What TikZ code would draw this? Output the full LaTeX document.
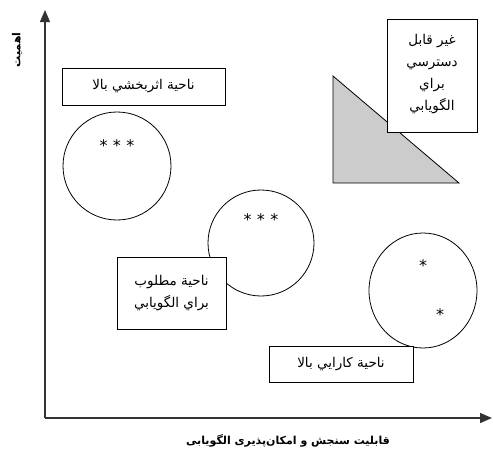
\documentclass[tikz,border=0pt]{standalone}
\usepackage{fontspec}
\newfontfamily\arabicfont[Script=Arabic]{DejaVu Sans}
\TeXXeTstate=1
\usetikzlibrary{shapes.geometric}
\usetikzlibrary{arrows.meta}
\usepackage{xcolor}

\begin{document}
\begin{tikzpicture}[x=1pt, y=-1pt]
        % ================= 样式定义 =================
        % 方框: 黑边, 白色填充, 阿拉伯字体
        \tikzset{
            region/.style={draw=black, thick, fill=white, align=center, inner sep=0pt,
                font=\arabicfont\fontsize{13.5}{22}\selectfont},
            zone/.style={draw=black, thick},
            axis/.style={draw=black!80, line width=1.3pt, -{Triangle[length=12pt, width=10pt]}},
            axislabel/.style={font=\arabicfont\bfseries\fontsize{11}{13}\selectfont},
            stars/.style={font=\arabicfont\fontsize{16}{16}\selectfont, inner sep=0pt}
        }

        % 画布大小
        \useasboundingbox (0,0) rectangle (493,450);

        % ================= 坐标轴 =================
        \coordinate (O) at (45,418);
        \coordinate (ytip) at (45,10);
        \coordinate (xtip) at (492,418);
        \draw[axis] (O) -- (ytip);
        \draw[axis] (O) -- (xtip);

        \node[axislabel] (xlab) at (288,441) {\beginR قابلیت سنجش و امکان‌پذیری الگویابی\endR};
        \node[axislabel, rotate=90] (ylab) at (17,50) {\beginR اهمیت\endR};

        % ================= 绘图部分 =================

        % 三角形: 灰色填充, 不可达区域
        \draw[zone, fill=black!20] (333,76) coordinate (tA) -- (333,183) coordinate (tB)
            -- (459,183) coordinate (tC) -- cycle;

        % 圆形: 左上
        \node[zone, circle, minimum size=108pt] (c1) at (117,166) {};
        \node[stars] (s1) at (117,146) {*\,\,*\,\,*};

        % 圆形: 中间
        \node[zone, circle, minimum size=106pt] (c2) at (261,243) {};
        \node[stars] (s2) at (261,220) {*\,\,*\,\,*};

        % 椭圆: 右下
        \node[zone, ellipse, minimum width=108pt, minimum height=115pt] (c3) at (423,290.5) {};
        \node[stars] (s3) at (423,266) {*};
        \node[stars] (s4) at (440,315) {*};

        % 方框
        \node[region, minimum width=163pt, minimum height=37pt] (effect) at (143.5,86.5)
            {\beginR ناحية اثربخشي بالا\endR};
        \node[region, minimum width=90pt, minimum height=113pt, text depth=6pt] (noreach) at (432,75.5)
            {\beginR غير قابل\endR\\ \beginR دسترسي\endR\\ \beginR براي\endR\\ \beginR الگويابي\endR};
        \node[region, minimum width=109pt, minimum height=72pt] (desired) at (171.5,293)
            {\beginR ناحية مطلوب\endR\\ \beginR براي الگويابي\endR};
        \node[region, minimum width=144pt, minimum height=36pt] (efficient) at (341,364)
            {\beginR ناحية كارايي بالا\endR};

    \end{tikzpicture}
\end{document}
